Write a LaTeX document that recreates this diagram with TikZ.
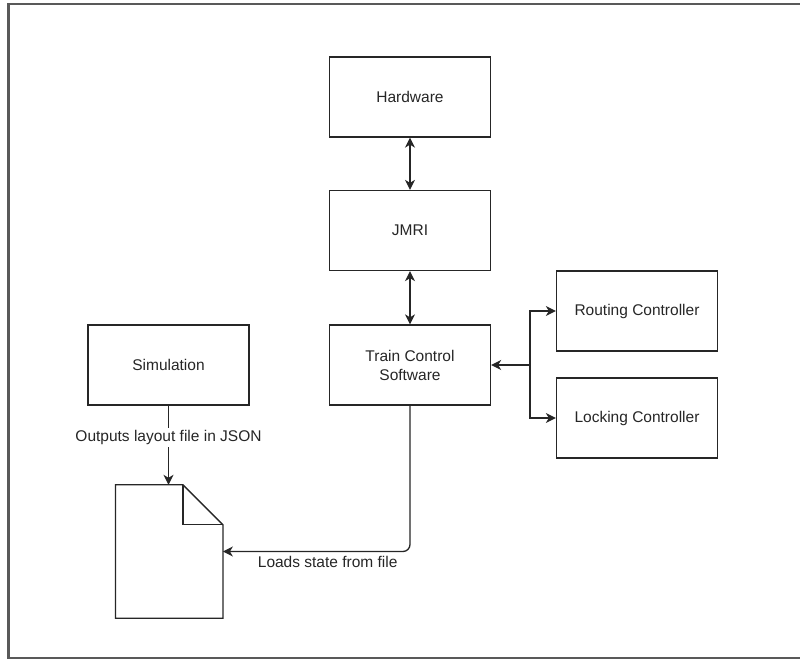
\documentclass[tikz,border=0pt]{standalone}
\usepackage{fontspec}
\setmainfont{Liberation Sans}
\usetikzlibrary{arrows.meta}

\tikzset{
  block/.style={draw=black!85, line width=1.3pt, minimum width=161pt, minimum height=80pt,
    inner sep=0pt, align=center, text=black!85, font=\fontsize{15.5}{19}\selectfont},
  link/.style={draw=black!85, line width=1.3pt,
    -{Stealth[length=10pt,width=10pt,inset=3pt]}},
  biway/.style={draw=black!85, line width=1.3pt,
    {Stealth[length=10pt,width=10pt,inset=3pt]}-{Stealth[length=10pt,width=10pt,inset=3pt]}},
  tag/.style={font=\fontsize{15.5}{19}\selectfont, text=black!85, inner sep=2pt},
}

\begin{document}
\begin{tikzpicture}[x=1pt, y=-1pt]
  \useasboundingbox (0,0) rectangle (800,659);
  % outer frame
  \draw[draw=black!65, line width=2.2pt] (805,4) -- (8.5,4) -- (8.5,658) -- (805,658);

  % boxes
  \node[block] (hw)   at (410,97)  {Hardware};
  \node[block] (jmri) at (410,230.5) {JMRI};
  \node[block] (tcs)  at (410,365) {Train Control\\Software};
  \node[block] (sim)  at (168.5,365) {Simulation};
  \node[block] (rc)   at (637,311) {Routing Controller};
  \node[block] (lc)   at (637,418) {Locking Controller};

  % document with folded corner
  \node[minimum width=107pt, minimum height=133pt, inner sep=0pt] (doc) at (169.2,551.5) {};
  \draw[draw=black!85, line width=1.3pt, line join=miter]
    (doc.north west) -- ([xshift=-40pt]doc.north east) -- ([yshift=-40pt]doc.north east)
    -- (doc.south east) -- (doc.south west) -- cycle;
  \draw[draw=black!85, line width=1.3pt]
    ([xshift=-40pt]doc.north east) -- ([xshift=-40pt,yshift=-40pt]doc.north east)
    -- ([yshift=-40pt]doc.north east);

  % connectors
  \draw[biway] (hw) -- (jmri);
  \draw[biway] (jmri) -- (tcs);

  \coordinate (split) at (530,365);
  \draw[link] (split) -- (tcs.east);
  \draw[link] (split) |- (rc.west);
  \draw[link] (split) |- (lc.west);

  \draw[link] (sim.south) -- (sim.south |- doc.north)
    node[tag, fill=white, pos=0.4] {Outputs layout file in JSON};

  \draw[link, rounded corners=7pt] (tcs.south) |- (doc.east)
    node[tag, pos=0.72, below=2pt] {Loads state from file};
\end{tikzpicture}
\end{document}
